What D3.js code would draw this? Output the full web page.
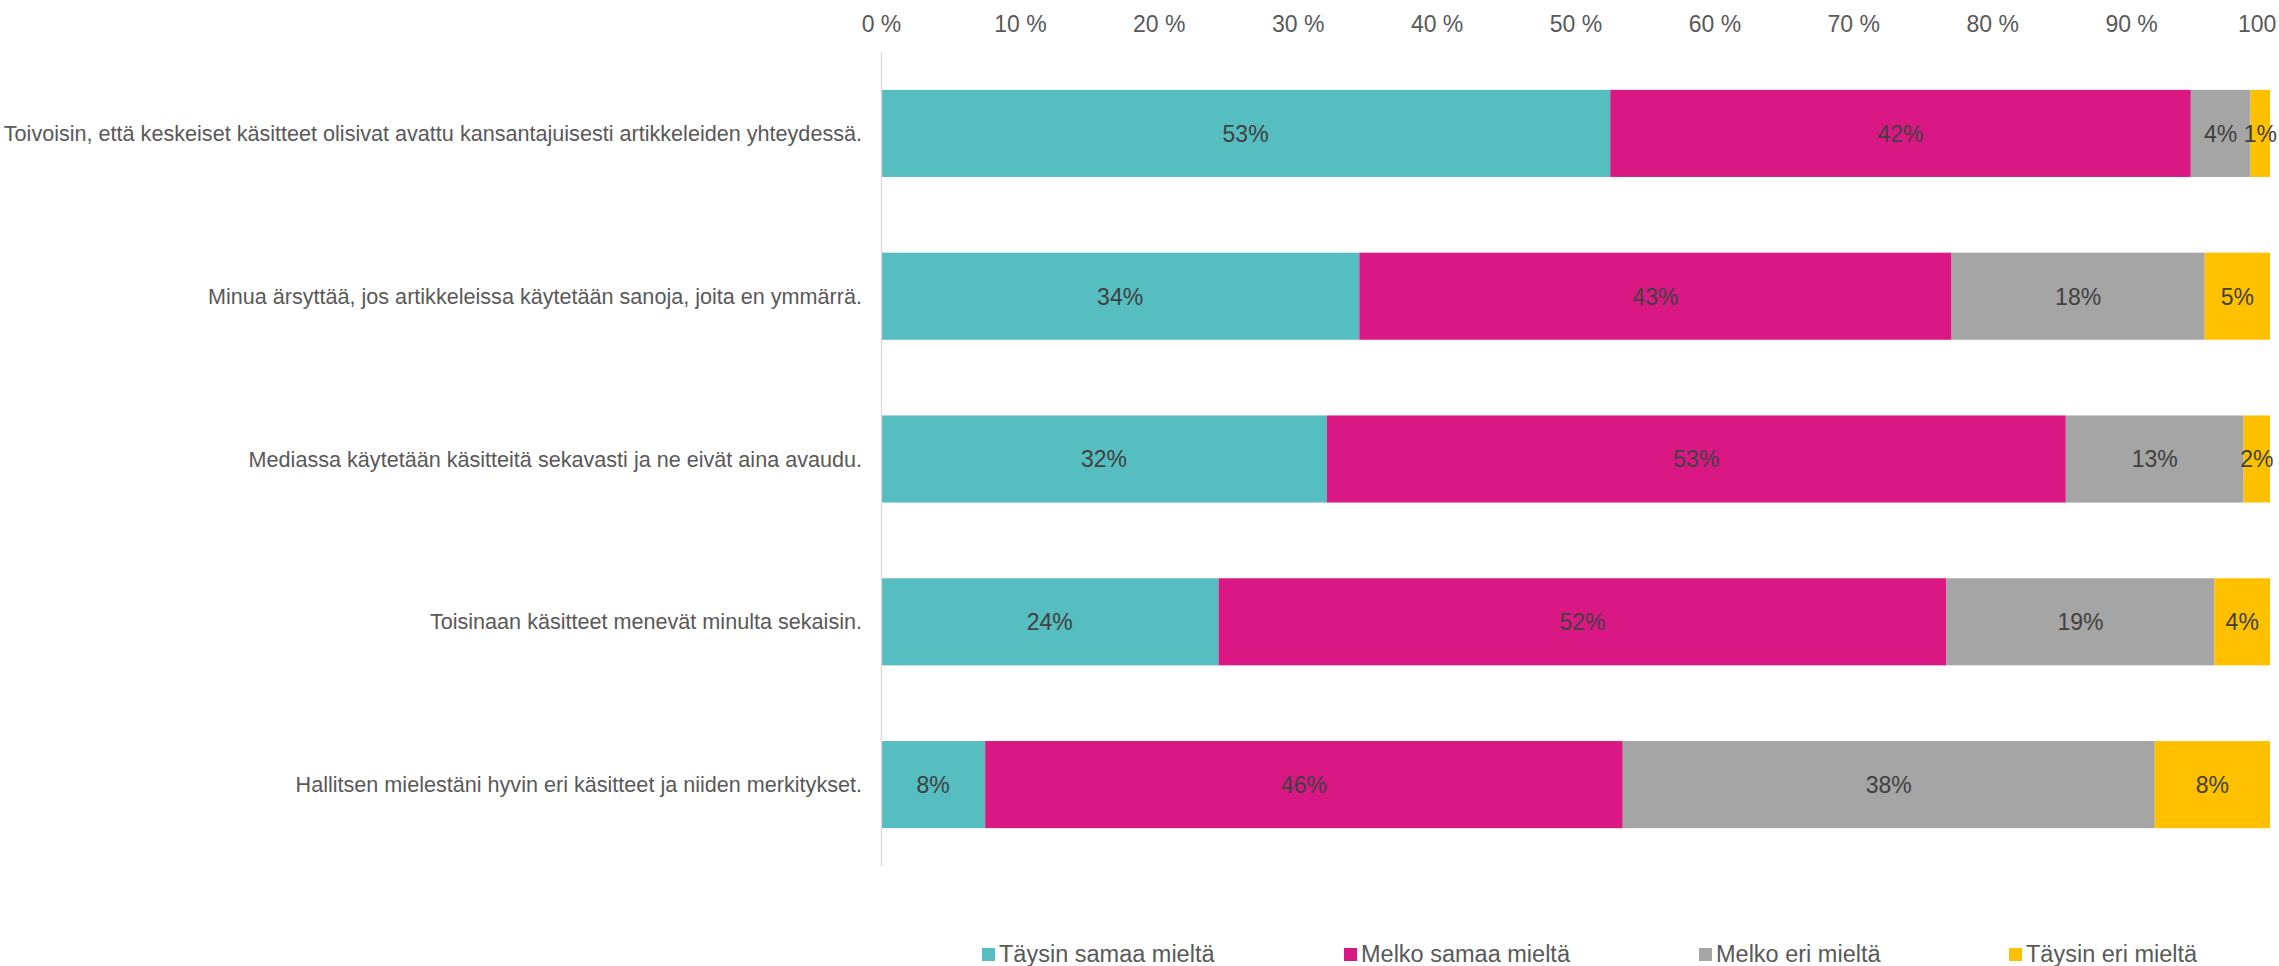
<!DOCTYPE html>
<html>
<head>
<meta charset="utf-8">
<script src="https://cdn.jsdelivr.net/npm/d3@7"></script>
<style>
  html, body { margin: 0; padding: 0; background: #fff; }
  svg { display: block; font-family: "Liberation Sans", Arial, sans-serif; }
</style>
</head>
<body>
<svg id="chart" width="2279" height="966"></svg>
<script>
// ---- data ----
const categories = [
  "Toivoisin, että keskeiset käsitteet olisivat avattu kansantajuisesti artikkeleiden yhteydessä.",
  "Minua ärsyttää, jos artikkeleissa käytetään sanoja, joita en ymmärrä.",
  "Mediassa käytetään käsitteitä sekavasti ja ne eivät aina avaudu.",
  "Toisinaan käsitteet menevät minulta sekaisin.",
  "Hallitsen mielestäni hyvin eri käsitteet ja niiden merkitykset."
];
const seriesNames = ["Täysin samaa mieltä", "Melko samaa mieltä", "Melko eri mieltä", "Täysin eri mieltä"];
const taysinSamaa = [52.5, 34.4, 32.1, 24.3, 7.5];
const melkoSamaa  = [41.8, 42.6, 53.2, 52.4, 45.9];
const melkoEri    = [4.3, 18.2, 12.8, 19.3, 38.3];
const taysinEri   = [1.4, 4.7, 1.9, 4.0, 8.3];
const tickValues  = [0, 10, 20, 30, 40, 50, 60, 70, 80, 90, 100];

// ---- styles / layout ----
const colors = ["#56BDC0", "#DA1884", "#A5A5A5", "#FFC000"];
const W = 2279, H = 966;
const plotLeft = 881, plotRight = 2270, plotTop = 52, plotBottom = 866;
const legendX = [982, 1344, 1699, 2009];

const seriesValues = [taysinSamaa, melkoSamaa, melkoEri, taysinEri];
const rows = categories.map((c, i) => {
  const o = { cat: c };
  seriesNames.forEach((s, j) => o[s] = seriesValues[j][i]);
  return o;
});
const stack = d3.stack().keys(seriesNames).offset(d3.stackOffsetExpand);
const stacked = stack(rows);

const x = d3.scaleLinear().domain([0, 1]).range([plotLeft, plotRight]);
const y = d3.scaleBand().domain(categories).range([plotTop, plotBottom]).paddingInner(0.465).paddingOuter(0.2325);

const svg = d3.select("#chart");

// top axis labels
const xAxis = d3.axisTop(x)
  .tickValues(tickValues.map(v => v / 100))
  .tickFormat((d) => Math.round(d * 100) + " %")
  .tickSize(0).tickPadding(0);
const gx = svg.append("g").attr("transform", "translate(0,32)").call(xAxis);
gx.select(".domain").remove();
gx.selectAll("text")
  .attr("dy", 0)
  .attr("fill", "#595959")
  .style("font-size", "23px")
  .style("font-family", "'Liberation Sans', Arial, sans-serif");

// bars
const groups = svg.append("g").selectAll("g")
  .data(stacked).join("g")
  .attr("fill", (d, i) => colors[i]);
groups.selectAll("rect")
  .data(d => d.map(p => ({ p, cat: p.data.cat })))
  .join("rect")
  .attr("x", d => x(d.p[0]))
  .attr("width", d => x(d.p[1]) - x(d.p[0]))
  .attr("y", d => y(d.cat))
  .attr("height", y.bandwidth());

// data labels
const fmt = d3.format(".0f");
stacked.forEach((s) => {
  svg.append("g").selectAll("text")
    .data(s).join("text")
    .attr("x", p => (x(p[0]) + x(p[1])) / 2)
    .attr("y", p => y(p.data.cat) + y.bandwidth() / 2 + 8.3)
    .attr("text-anchor", "middle")
    .attr("fill", "#404040")
    .style("font-size", "23px")
    .text(p => fmt(p.data[s.key]) + "%");
});

// vertical axis line
const yAxis = d3.axisLeft(y).tickSize(0).tickPadding(19);
const gy = svg.append("g").attr("transform", `translate(${plotLeft},0)`).call(yAxis);
gy.select(".domain").attr("stroke", "#D9D9D9").attr("stroke-width", 1.3)
  .attr("d", `M0.5,${plotTop}V${plotBottom}`);
gy.selectAll("text")
  .attr("fill", "#595959")
  .attr("dy", "0.35em")
  .style("font-size", "21.6px")
  .style("font-family", "'Liberation Sans', Arial, sans-serif");

// legend
const lg = svg.append("g").selectAll("g")
  .data(seriesNames).join("g")
  .attr("transform", (d, i) => `translate(${legendX[i]},0)`);
lg.append("rect").attr("x", 0).attr("y", 948).attr("width", 13).attr("height", 13)
  .attr("fill", (d, i) => colors[i]);
lg.append("text").attr("x", 17).attr("y", 962)
  .attr("fill", "#595959")
  .style("font-size", "23.5px")
  .text(d => d);
</script>
</body>
</html>
